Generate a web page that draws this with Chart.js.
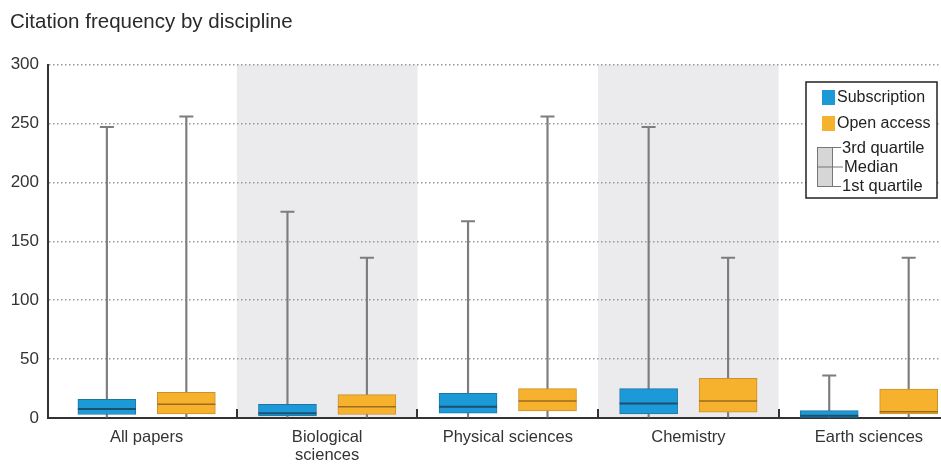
<!DOCTYPE html>
<html>
<head>
<meta charset="utf-8">
<script src="https://cdn.jsdelivr.net/npm/chart.js@4/dist/chart.umd.min.js"></script>
<style>
  html, body { margin: 0; padding: 0; background: #fff; overflow: hidden; }
  #wrap { width: 941px; height: 466px; position: relative; }
</style>
</head>
<body>
<div id="wrap"><canvas id="c"></canvas></div>
<script>
// ---- data ----
const categories = ['All papers', ['Biological', 'sciences'], 'Physical sciences', 'Chemistry', 'Earth sciences'];
const seriesNames = ['Subscription', 'Open access'];
const yTicks = [0, 50, 100, 150, 200, 250, 300];

const subMin = [0, 0, 0, 0, 0];
const subQ1  = [3, 1.7, 4, 3.4, 0.5];
const subMed = [7.6, 4, 9.6, 12.4, 2];
const subQ3  = [15.8, 11.6, 21, 25, 6.2];
const subMax = [247, 175, 167, 247, 36];

const oaMin = [0, 0, 0, 0, 0];
const oaQ1  = [3.4, 3, 6, 5, 3.4];
const oaMed = [11.6, 9.6, 14.4, 14.4, 5.4];
const oaQ3  = [21.8, 19.8, 25, 33.6, 24.6];
const oaMax = [256, 136, 256, 136, 136];

// ---- style ----
const FONT = '"Liberation Sans", Arial, Helvetica, sans-serif';
const BLUE = '#1b9ad7', BLUE_EDGE = '#1f74a3', BLUE_MED = '#1c4f70';
const ORANGE = '#f6b12d', ORANGE_EDGE = '#c9912f', ORANGE_MED = '#9c6b22';
const WHISKER = '#7d7d7d';
const BAND = '#ebebee';
const OFF = 0.22;          // horizontal offset of each box from group centre (category units)
const X_MIN = -0.546, X_MAX = 4.399;

const boxData = (q1, q3, off) => categories.map((c, i) => ({ x: i + off, y: [q1[i], q3[i]] }));
const whiskData = (mn, mx, off) => categories.map((c, i) => ({ x: i + off, y: [mn[i], mx[i]] }));
const ptData = (v, off) => categories.map((c, i) => ({ x: i + off, y: v[i] }));

const datasets = [
  // whiskers
  { type: 'bar', label: 'w1', data: whiskData(subMin, subMax, -OFF), backgroundColor: WHISKER, barThickness: 1.5, grouped: false, order: 5 },
  { type: 'bar', label: 'w2', data: whiskData(oaMin, oaMax, OFF), backgroundColor: WHISKER, barThickness: 1.5, grouped: false, order: 5 },
  // boxes
  { type: 'bar', label: seriesNames[0], data: boxData(subQ1, subQ3, -OFF), backgroundColor: BLUE, borderColor: BLUE_EDGE, borderWidth: 1, borderSkipped: false, barThickness: 58, grouped: false, order: 3 },
  { type: 'bar', label: seriesNames[1], data: boxData(oaQ1, oaQ3, OFF), backgroundColor: ORANGE, borderColor: ORANGE_EDGE, borderWidth: 1, borderSkipped: false, barThickness: 58, grouped: false, order: 3 },
  // medians
  { type: 'scatter', label: 'm1', data: ptData(subMed, -OFF), pointStyle: 'line', pointRadius: 29, borderColor: BLUE_MED, backgroundColor: BLUE_MED, borderWidth: 2, order: 1 },
  { type: 'scatter', label: 'm2', data: ptData(oaMed, OFF), pointStyle: 'line', pointRadius: 29, borderColor: ORANGE_MED, backgroundColor: ORANGE_MED, borderWidth: 1.5, order: 1 },
  // caps
  { type: 'scatter', label: 'c1', data: ptData(subMax, -OFF), pointStyle: 'line', pointRadius: 7, borderColor: WHISKER, backgroundColor: WHISKER, borderWidth: 2, order: 1 },
  { type: 'scatter', label: 'c2', data: ptData(oaMax, OFF), pointStyle: 'line', pointRadius: 7, borderColor: WHISKER, backgroundColor: WHISKER, borderWidth: 2, order: 1 },
];

const bandsPlugin = {
  id: 'bands',
  beforeDraw(chart) {
    const { ctx, scales: { x, y } } = chart;
    ctx.save();
    ctx.fillStyle = BAND;
    [1, 3].forEach(i => {
      const l = x.getPixelForValue(i - 0.5), r = x.getPixelForValue(i + 0.5);
      const t = y.getPixelForValue(300), b = y.getPixelForValue(0);
      ctx.fillRect(l, t, r - l, b - t);
    });
    ctx.restore();
  }
};

const ticksPlugin = {
  id: 'groupTicks',
  afterDraw(chart) {
    const { ctx, scales: { x, y } } = chart;
    ctx.save();
    ctx.strokeStyle = '#333';
    ctx.lineWidth = 2;
    for (let i = 0; i < categories.length - 1; i++) {
      const px = Math.round(x.getPixelForValue(i + 0.5));
      const b = y.getPixelForValue(0);
      ctx.beginPath();
      ctx.moveTo(px, b);
      ctx.lineTo(px, b - 9);
      ctx.stroke();
    }
    ctx.restore();
  }
};

const legendPlugin = {
  id: 'boxLegend',
  afterDraw(chart) {
    const ctx = chart.ctx;
    ctx.save();
    const L = 806, T = 82, W = 131, H = 116;
    ctx.fillStyle = '#fff';
    ctx.fillRect(L, T, W, H);
    ctx.strokeStyle = '#222';
    ctx.lineWidth = 1.5;
    ctx.strokeRect(L, T, W, H);
    ctx.textBaseline = 'middle';
    // series swatches
    ctx.fillStyle = BLUE; ctx.fillRect(822, 90, 13, 15);
    ctx.fillStyle = ORANGE; ctx.fillRect(822, 116, 13, 15);
    ctx.font = '16px ' + FONT;
    ctx.fillStyle = '#222';
    ctx.fillText(seriesNames[0], 837, 98);
    ctx.fillText(seriesNames[1], 837, 124);
    // quartile glyph
    ctx.fillStyle = '#d6d6d6';
    ctx.fillRect(817, 147, 16, 40);
    ctx.strokeStyle = '#777';
    ctx.lineWidth = 1;
    ctx.strokeRect(817.5, 147.5, 15, 39);
    ctx.beginPath();
    ctx.moveTo(817, 167); ctx.lineTo(843, 167);
    ctx.moveTo(833, 147.5); ctx.lineTo(841, 147.5);
    ctx.moveTo(833, 186.5); ctx.lineTo(841, 186.5);
    ctx.stroke();
    ctx.font = '16.5px ' + FONT;
    ctx.fillStyle = '#222';
    ctx.fillText('3rd quartile', 842, 148);
    ctx.fillText('Median', 844, 167);
    ctx.fillText('1st quartile', 842, 186);
    ctx.restore();
  }
};

new Chart(document.getElementById('c'), {
  type: 'bar',
  data: { datasets },
  plugins: [bandsPlugin, ticksPlugin, legendPlugin],
  options: {
    responsive: true,
    maintainAspectRatio: false,
    animation: false,
    events: [],
    layout: { autoPadding: false, padding: { left: 10, right: 0, top: 0, bottom: 0 } },
    plugins: {
      legend: { display: false },
      tooltip: { enabled: false },
      title: {
        display: true,
        text: 'Citation frequency by discipline',
        align: 'start',
        color: '#2a2a2a',
        font: { family: FONT, size: 20.5, weight: 'normal' },
        padding: { top: 10, bottom: 30 }
      }
    },
    scales: {
      x: {
        type: 'linear',
        offset: false,
        bounds: 'ticks',
        min: X_MIN,
        max: X_MAX,
        afterBuildTicks: s => { s.ticks = categories.map((c, i) => ({ value: i })); },
        afterDataLimits: s => { s.min = X_MIN; s.max = X_MAX; },
        afterFit: s => { s.height = 48; s.paddingLeft = 0; s.paddingRight = 0; },
        ticks: {
          autoSkip: false,
          maxRotation: 0,
          padding: 10,
          color: '#333',
          font: { family: FONT, size: 16.5, lineHeight: 1.1 },
          callback: v => categories[v]
        },
        grid: { color: 'transparent', drawTicks: false, offset: false },
        border: { color: '#333', width: 2 }
      },
      y: {
        min: 0,
        max: 300,
        afterBuildTicks: s => { s.ticks = yTicks.map(v => ({ value: v })); },
        afterFit: s => { s.width = 38; },
        ticks: {
          padding: 9,
          color: '#333',
          font: { family: FONT, size: 17 }
        },
        grid: {
          drawTicks: false,
          color: c => (c.tick && c.tick.value === 0) ? 'transparent' : '#9a9a9a',
          lineWidth: 1.5
        },
        border: { color: '#333', width: 2, dash: [1.5, 2.5] }
      }
    }
  }
});
</script>
</body>
</html>
